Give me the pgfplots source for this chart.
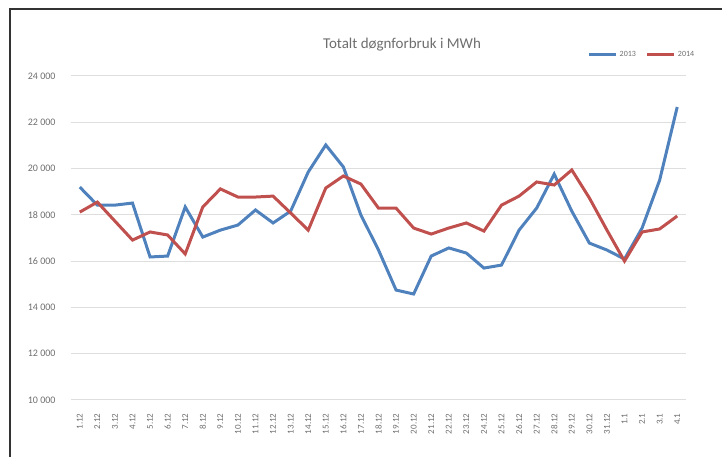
\documentclass[border=0pt]{standalone}
\usepackage{pgfplots}
\pgfplotsset{compat=1.18}
\usepackage{fontspec}
\setmainfont{Carlito}
\definecolor{xlblue}{RGB}{79,129,189}
\definecolor{xlred}{RGB}{192,80,77}
\definecolor{txtgray}{RGB}{110,110,110}
\definecolor{gridgray}{RGB}{222,222,222}
\begin{document}
\begin{tikzpicture}[x=1pt,y=1pt]
\path[use as bounding box] (0,0) rectangle (722,457);
\draw[line width=1.5pt, color=black!80] (10,0) -- (10,448) -- (722,448);
\node[text=txtgray, font=\fontsize{15}{17}\selectfont] at (402,412) {Totalt døgnforbruk i MWh};
\begin{axis}[
  at={(71pt,57pt)}, anchor=south west,
  width=615pt, height=324pt, scale only axis,
  xmin=-0.5, xmax=34.5, ymin=10000, ymax=24000,
  scaled y ticks=false,
  ytick={10000,12000,14000,16000,18000,20000,22000,24000},
  yticklabels={10 000,12 000,14 000,16 000,18 000,20 000,22 000,24 000},
  xtick={0,...,34},
  xticklabels={1.12,2.12,3.12,4.12,5.12,6.12,7.12,8.12,9.12,10.12,11.12,12.12,13.12,14.12,15.12,16.12,17.12,18.12,19.12,20.12,21.12,22.12,23.12,24.12,25.12,26.12,27.12,28.12,29.12,30.12,31.12,1.1,2.1,3.1,4.1},
  x tick label style={rotate=90, anchor=east, font=\fontsize{9}{9}\selectfont, text=txtgray},
  y tick label style={font=\fontsize{10}{10}\selectfont, text=txtgray},
  /pgf/number format/assume math mode=true,
  ymajorgrids, grid style={gridgray, line width=1pt},
  axis line style={draw=none},
  axis x line*=bottom, axis y line*=left,
  major tick length=0pt,
  xticklabel shift=10pt, yticklabel shift=12pt,
  legend columns=2,
  legend style={at={(0.835,1.066)}, anchor=west, draw=none, fill=none,
    font=\fontsize{8}{9}\selectfont, text=txtgray,
    /tikz/every even column/.append style={column sep=8pt}},
  legend image code/.code={\draw[#1, line width=3pt] (0pt,0pt) -- (27pt,0pt);},
]
\addplot[xlblue, line width=3pt] coordinates {
(0,19200) (1,18420) (2,18420) (3,18510) (4,16180) (5,16220) (6,18340) (7,17040)
(8,17340) (9,17560) (10,18210) (11,17650) (12,18160) (13,19850) (14,21020) (15,20070)
(16,17990) (17,16480) (18,14750) (19,14580) (20,16220) (21,16570) (22,16350) (23,15700)
(24,15830) (25,17340) (26,18290) (27,19760) (28,18160) (29,16780) (30,16480) (31,16090)
(32,17430) (33,19500) (34,22660)};
\addlegendentry{2013}
\addplot[xlred, line width=3pt] coordinates {
(0,18120) (1,18550) (2,17730) (3,16910) (4,17260) (5,17130) (6,16310) (7,18340)
(8,19120) (9,18770) (10,18770) (11,18810) (12,18080) (13,17340) (14,19160) (15,19680)
(16,19330) (17,18290) (18,18290) (19,17430) (20,17170) (21,17430) (22,17650) (23,17300)
(24,18420) (25,18810) (26,19420) (27,19290) (28,19940) (29,18730) (30,17340) (31,16000)
(32,17260) (33,17390) (34,17950)};
\addlegendentry{2014}
\end{axis}
\end{tikzpicture}
\end{document}
